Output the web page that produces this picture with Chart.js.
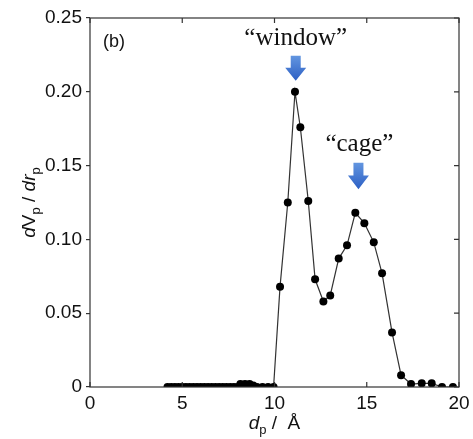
<!DOCTYPE html>
<html>
<head>
<meta charset="utf-8">
<script src="https://cdn.jsdelivr.net/npm/chart.js@4.4.0/dist/chart.umd.min.js"></script>
<style>
  html, body { margin: 0; padding: 0; background: #fff; }
  #wrap { width: 473px; height: 439px; }
</style>
</head>
<body>
<div id="wrap"><canvas id="psd" width="473" height="439"></canvas></div>
<script>
// pore diameter (Å) and dVp/drp
const poreDiameter = [
  4.2, 4.4, 4.6, 4.8, 5.0, 5.2, 5.4, 5.6, 5.8, 6.0,
  6.2, 6.4, 6.6, 6.8, 7.0, 7.2, 7.4, 7.6, 7.8, 8.0,
  8.15, 8.4, 8.65, 8.85, 9.05, 9.35, 9.65, 9.95,
  10.30, 10.72, 11.11, 11.40, 11.83, 12.20, 12.65, 13.02, 13.48, 13.93,
  14.38, 14.87, 15.38, 15.83, 16.37, 16.86, 17.40, 17.98, 18.52, 19.08, 19.67
];
const poreVolume = [
  0, 0, 0, 0, 0, 0, 0, 0, 0, 0,
  0, 0, 0, 0, 0, 0, 0, 0, 0, 0,
  0.002, 0.002, 0.002, 0.001, 0, 0, 0, 0,
  0.068, 0.125, 0.200, 0.176, 0.126, 0.073, 0.058, 0.062, 0.087, 0.096,
  0.118, 0.111, 0.098, 0.077, 0.037, 0.008, 0.002, 0.0025, 0.0025, 0, 0
];
const xTicks = [0, 5, 10, 15, 20];
const yTicks = [0, 0.05, 0.10, 0.15, 0.20, 0.25];

// annotation labels: [text, x, y] in data units
const labels = [
  ['\u201cwindow\u201d', 11.15, 0.236],
  ['\u201ccage\u201d', 14.6, 0.164]
];
// arrows: [x, yTop, yTip] in data units
const arrows = [
  [11.15, 0.2245, 0.2075],
  [14.55, 0.1520, 0.1340]
];

const sans = '"Liberation Sans", Arial, sans-serif';
const serif = '"Liberation Serif", "Times New Roman", serif';

function drawParts(ctx, parts, x, y, align) {
  // parts: [text, font, dy]
  let total = 0;
  parts.forEach(p => { ctx.font = p[1]; total += ctx.measureText(p[0]).width; });
  let cx = align === 'center' ? x - total / 2 : x;
  ctx.textAlign = 'left';
  parts.forEach(p => {
    ctx.font = p[1];
    ctx.fillText(p[0], cx, y + (p[2] || 0));
    cx += ctx.measureText(p[0]).width;
  });
}

const framePlugin = {
  id: 'frame',
  afterDraw(chart) {
    const ctx = chart.ctx;
    const a = chart.chartArea;
    const xs = chart.scales.x, ys = chart.scales.y;
    ctx.save();
    ctx.strokeStyle = '#333';
    ctx.lineWidth = 1.2;
    ctx.strokeRect(a.left, a.top, a.right - a.left, a.bottom - a.top);

    // inward ticks on bottom, top and right
    ctx.beginPath();
    xTicks.forEach(v => {
      const px = xs.getPixelForValue(v);
      ctx.moveTo(px, a.bottom); ctx.lineTo(px, a.bottom - 5);
      ctx.moveTo(px, a.top); ctx.lineTo(px, a.top + 5);
    });
    yTicks.forEach(v => {
      const py = ys.getPixelForValue(v);
      ctx.moveTo(a.right, py); ctx.lineTo(a.right - 5, py);
    });
    ctx.stroke();

    // x tick labels
    ctx.fillStyle = '#111';
    ctx.font = '19px ' + sans;
    ctx.textAlign = 'center';
    ctx.textBaseline = 'top';
    xTicks.forEach(v => {
      ctx.fillText(String(v), xs.getPixelForValue(v), a.bottom + 7);
    });

    // arrows
    arrows.forEach(([x, y0, y1]) => {
      const cx = xs.getPixelForValue(x);
      const top = ys.getPixelForValue(y0);
      const tip = ys.getPixelForValue(y1);
      const neck = top + (tip - top) * 0.48;
      const g = ctx.createLinearGradient(0, top, 0, tip);
      g.addColorStop(0, '#6396e0');
      g.addColorStop(1, '#2c5fc4');
      ctx.fillStyle = g;
      ctx.beginPath();
      ctx.moveTo(cx - 5, top);
      ctx.lineTo(cx + 5, top);
      ctx.lineTo(cx + 5, neck);
      ctx.lineTo(cx + 10.5, neck);
      ctx.lineTo(cx, tip);
      ctx.lineTo(cx - 10.5, neck);
      ctx.lineTo(cx - 5, neck);
      ctx.closePath();
      ctx.fill();
    });

    // labels
    ctx.fillStyle = '#111';
    ctx.textBaseline = 'middle';
    ctx.textAlign = 'center';
    ctx.font = '25px ' + serif;
    labels.forEach(([t, x, y]) => {
      ctx.fillText(t, xs.getPixelForValue(x), ys.getPixelForValue(y));
    });
    ctx.font = '18px ' + sans;
    ctx.fillText('(b)', a.left + 24, a.top + 24);

    // x axis title
    ctx.textBaseline = 'alphabetic';
    drawParts(ctx, [
      ['d', 'italic 19px ' + sans, 0],
      ['p', '13px ' + sans, 5],
      [' /  \u00c5', '19px ' + sans, 0]
    ], (a.left + a.right) / 2, 429, 'center');

    // y axis title (rotated)
    ctx.translate(35, (a.top + a.bottom) / 2);
    ctx.rotate(-Math.PI / 2);
    drawParts(ctx, [
      ['d', 'italic 19px ' + sans, 0],
      ['V', '19px ' + sans, 0],
      ['p', '13px ' + sans, 5],
      [' / ', '19px ' + sans, 0],
      ['dr', 'italic 19px ' + sans, 0],
      ['p', '13px ' + sans, 5]
    ], 0, 0, 'center');
    ctx.restore();
  }
};

new Chart(document.getElementById('psd'), {
  type: 'scatter',
  data: {
    datasets: [{
      data: poreDiameter.map((d, i) => ({ x: d, y: poreVolume[i] })),
      showLine: true,
      borderColor: '#333',
      borderWidth: 1.2,
      backgroundColor: '#000',
      pointRadius: 4,
      pointBorderWidth: 0,
      tension: 0
    }]
  },
  options: {
    responsive: false,
    animation: false,
    layout: { padding: { left: 0, top: 18, right: 14, bottom: 0 } },
    plugins: { legend: { display: false }, tooltip: { enabled: false } },
    scales: {
      x: {
        type: 'linear',
        min: 0, max: 20,
        afterBuildTicks: s => { s.ticks = xTicks.map(v => ({ value: v })); },
        // labels drawn by the frame plugin so the last one is not dropped
        ticks: { display: false },
        grid: { display: false },
        border: { display: false },
        afterFit: s => { s.height = 52; }
      },
      y: {
        min: 0, max: 0.25,
        afterBuildTicks: s => { s.ticks = yTicks.map(v => ({ value: v })); },
        ticks: { color: '#111', font: { family: sans, size: 19 }, padding: 4, autoSkip: false,
          callback: v => v === 0 ? '0' : v.toFixed(2) },
        grid: { drawOnChartArea: false, tickLength: 4, color: '#333', lineWidth: 1.2 },
        border: { display: false },
        afterFit: s => { s.width = 90; }
      }
    }
  },
  plugins: [framePlugin]
});
</script>
</body>
</html>
